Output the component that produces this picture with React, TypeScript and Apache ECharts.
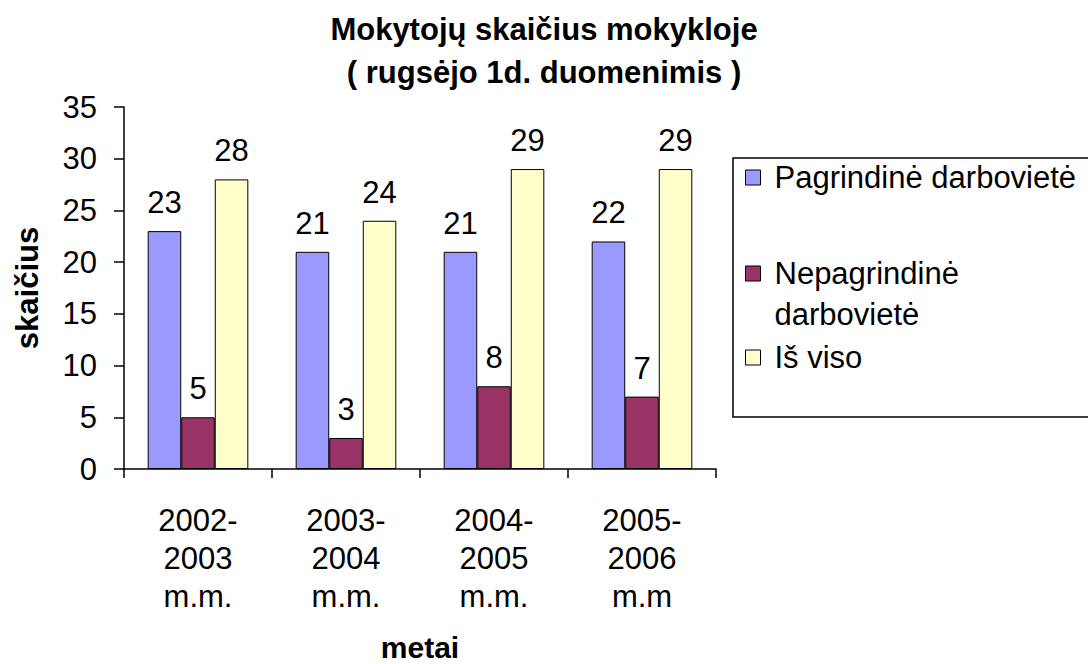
import React, { useEffect, useRef } from "react";
import * as echarts from "echarts";

const categories = ["2002-\n2003\nm.m.", "2003-\n2004\nm.m.", "2004-\n2005\nm.m.", "2005-\n2006\nm.m"];
const seriesNames = ["Pagrindinė darbovietė", "Nepagrindinė darbovietė", "Iš viso"];
const pagrindine = [23, 21, 21, 22];
const nepagrindine = [5, 3, 8, 7];
const isViso = [28, 24, 29, 29];
const colors = ["#9999FF", "#993366", "#FFFFCC"];

const FONT = 'Arial, "Liberation Sans", sans-serif';
const FS = 31;

export default function App() {
  const ref = useRef<HTMLDivElement>(null);
  useEffect(() => {
    if (!ref.current) return;
    const chart = echarts.init(ref.current, null, { renderer: "svg" });
    const values = [pagrindine, nepagrindine, isViso];
    const legendTops = [157, 212, 337];
    chart.setOption({
      animation: false,
      backgroundColor: "#fff",
      textStyle: { fontFamily: FONT },
      title: {
        text: "Mokytojų skaičius mokykloje\n( rugsėjo 1d. duomenimis )",
        left: "center",
        top: 8,
        padding: [0, 14, 0, 0],
        textStyle: { fontFamily: FONT, fontSize: FS, fontWeight: "bold", color: "#000", lineHeight: 43 },
      },
      legend: seriesNames.map((n, i) => ({
        orient: "vertical",
        left: 745,
        top: legendTops[i],
        padding: 0,
        itemWidth: 15,
        itemHeight: 15,
        icon: "rect",
        data: [{ name: n, itemStyle: { color: colors[i], borderColor: "#000", borderWidth: 1 } }],
        formatter: (name: string) =>
          name === "Nepagrindinė darbovietė" ? "\nNepagrindinė\ndarbovietė" : name,
        textStyle: {
          fontFamily: FONT,
          fontSize: FS,
          color: "#000",
          lineHeight: 41,
          padding: [0, 0, 0, 9],
        },
        selectedMode: false,
      })),
      graphic: [
        {
          type: "rect",
          shape: { x: 733, y: 158, width: 420, height: 259 },
          style: { fill: "none", stroke: "#000", lineWidth: 1.5 },
          silent: true,
          z: -1,
        },
      ],
      grid: {
        left: 124,
        right: 1088 - 716,
        top: 107,
        bottom: 664 - 469,
        containLabel: false,
        outerBoundsMode: "none",
      },
      xAxis: {
        type: "category",
        data: categories,
        name: "metai",
        nameLocation: "middle",
        nameGap: 163,
        nameTextStyle: { fontFamily: FONT, fontSize: 30, fontWeight: "bold", color: "#000" },
        axisLine: { lineStyle: { color: "#000", width: 1.5 } },
        axisTick: { show: true, length: 9, lineStyle: { color: "#000", width: 1.5 } },
        axisLabel: { fontFamily: FONT, fontSize: FS, color: "#000", lineHeight: 38, margin: 32, interval: 0 },
      },
      yAxis: {
        type: "value",
        min: 0,
        max: 35,
        interval: 5,
        name: "skaičius",
        nameLocation: "middle",
        nameGap: 81,
        nameTextStyle: { fontFamily: FONT, fontSize: FS, fontWeight: "bold", color: "#000" },
        axisLine: { show: true, lineStyle: { color: "#000", width: 1.5 } },
        axisTick: { show: true, length: 10, lineStyle: { color: "#000", width: 1.5 } },
        axisLabel: { fontFamily: FONT, fontSize: FS, color: "#000", margin: 27 },
        splitLine: { show: false },
      },
      series: seriesNames.map((n, i) => ({
        name: n,
        type: "bar",
        data: values[i],
        barGap: "0%",
        barCategoryGap: "32%",
        itemStyle: { color: colors[i], borderColor: "#000", borderWidth: 1 },
        label: {
          show: true,
          position: "top",
          distance: 13,
          fontFamily: FONT,
          fontSize: FS,
          color: "#000",
        },
      })),
    });
    return () => chart.dispose();
  }, []);
  return (
    <div
      ref={ref}
      style={{ position: "fixed", left: 0, top: 0, width: 1088, height: 664, background: "#fff" }}
    />
  );
}
